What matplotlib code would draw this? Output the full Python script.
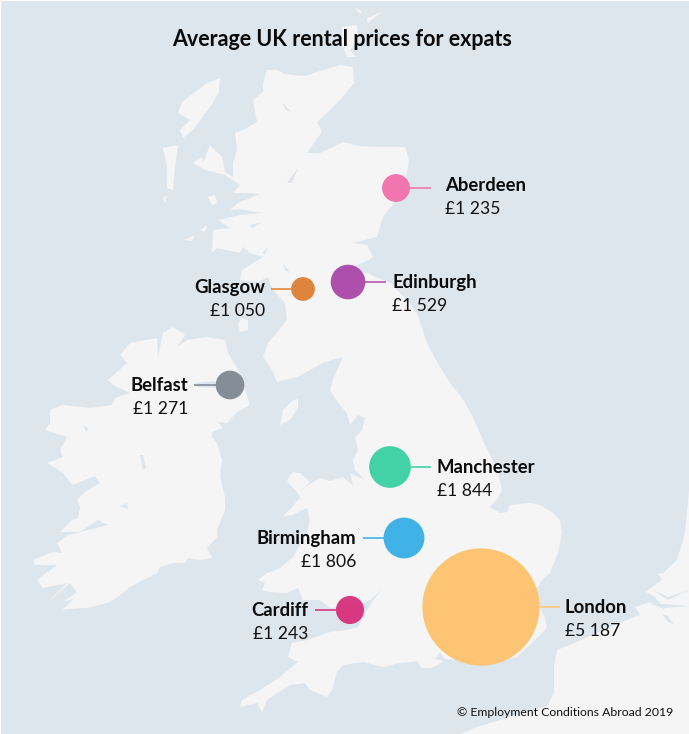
import matplotlib
matplotlib.use("Agg")
import matplotlib.pyplot as plt
from matplotlib.patches import Polygon, Circle

# ---- data ----
cities = ["Aberdeen", "Edinburgh", "Glasgow", "Belfast", "Manchester", "Birmingham", "Cardiff", "London"]
prices = [1235, 1529, 1050, 1271, 1844, 1806, 1243, 5187]
price_labels = ["£1 235", "£1 529", "£1 050", "£1 271", "£1 844", "£1 806", "£1 243", "£5 187"]
city_x = [396, 348, 303, 230, 390, 404, 350, 481]
city_y = [188, 282, 289, 385, 467, 538, 610, 607]
colors = ["#F16FA9", "#AA46A8", "#DC7F34", "#7F8991", "#38D0A2", "#36AFE6", "#D72F7A", "#FDC26C"]
line_colors = ["#F279AE", "#B653B4", "#E08A45", "#858E96", "#40D1A5", "#3EB2E6", "#D93A80", "#FCC97F"]
sides = ["r", "r", "l", "l", "r", "l", "l", "r"]
line_end_x = [431, 386, 270.5, 194, 431, 363, 315, 560]
label_x = [445, 392, 265.5, 188, 437, 356, 308, 565]
label_y = [185, 282, 287, 385, 467, 538, 610, 607]
RADIUS_PER_POUND = 0.0113
title = "Average UK rental prices for expats"
credit = "© Employment Conditions Abroad 2019"

# ---- basemap outlines (image pixels) ----
great_britain = [(267,70),(277,70),(285,74),(293,75),(305,76),(317,72),(330,68),(340,65),(353,67),(354,83),(347,92),(340,100),
 (328,112),(317,122),(322,132),(314,143),(307,153),(320,153),(333,147),(343,142),(360,146),(377,147),(405,147),(409,160),(407,173),
 (403,190),(400,197),(390,208),(383,217),(379,230),(377,237),(365,240),(353,243),(367,245),(373,257),(363,263),(345,268),(330,272),
 (345,275),(360,272),(367,273),(378,278),(390,283),(405,298),(417,313),(422,328),(427,343),(437,362),(450,383),(462,398),(472,415),
 (483,440),(490,455),(497,470),(502,490),(498,498),(490,507),(500,513),(507,512),(510,505),(530,503),(540,505),(552,512),(560,520),
 (562,533),(558,553),(550,573),(542,580),(538,587),(525,592),(515,600),(538,602),(541,610),(545,618),(547,628),(538,637),(517,657),
 (500,661),(480,663),(460,660),(445,659),(440,652),(436,658),(420,661),(400,663),(383,667),(363,662),(343,665),(337,672),(332,690),
 (327,697),(310,690),(305,683),(290,685),(267,700),(262,712),(257,703),(240,707),(242,700),(260,690),(280,677),(298,662),(288,657),
 (292,643),(307,640),(330,632),(347,630),(358,627),(366,612),(373,600),(383,589),(370,600),(357,605),(340,607),(330,608),(320,600),
 (303,600),(298,588),(287,593),(270,592),(262,590),(265,583),(258,580),(267,573),(280,568),(293,557),(307,533),(310,520),(307,508),
 (292,515),(282,517),(292,507),(300,498),(298,493),(308,485),(320,478),(330,481),(343,477),(353,485),(350,473),(365,480),(355,470),
 (353,460),(358,450),(355,438),(362,430),(365,418),(358,415),(350,425),(347,413),(338,403),(330,390),(333,380),(337,370),(343,357),
 (325,362),(310,370),(297,377),(277,382),(272,370),(263,357),(268,343),(287,320),(285,303),(273,290),(268,277),(258,282),(240,280),
 (242,270),(263,257),(250,253),(243,247),(240,253),(217,248),(212,253),(213,230),(230,228),(218,220),(240,215),(263,213),(240,209),
 (230,210),(238,203),(260,194),(245,193),(233,193),(240,185),(225,175),(205,170),(193,163),(202,157),(203,163),(210,145),(222,157),
 (225,172),(233,177),(233,163),(237,150),(235,133),(247,128),(257,122),(253,100),(263,92),(263,83)]
ireland = [(173,327),(185,335),(177,347),(187,340),(207,337),(225,340),(228,353),(240,373),(245,390),(250,405),(237,412),(227,423),
 (218,422),(223,428),(212,432),(212,437),(217,443),(222,460),(220,477),(225,497),(225,510),(217,530),(217,537),(207,548),(212,558),
 (200,560),(188,558),(185,563),(173,563),(160,567),(157,573),(147,578),(130,587),(123,593),(110,602),(88,608),(80,608),(62,610),
 (75,598),(63,602),(77,592),(70,583),(48,602),(67,583),(43,588),(37,580),(57,565),(35,565),(33,560),(53,552),(62,553),(57,543),
 (68,535),(108,525),(98,520),(80,532),(60,532),(72,520),(78,518),(80,507),(77,500),(85,492),(100,483),(95,476),(72,485),(63,473),
 (47,463),(63,457),(60,450),(67,437),(45,430),(50,423),(50,410),(62,405),(90,408),(112,405),(115,398),(130,393),(113,385),(108,380),
 (127,363),(120,355),(130,343),(157,338),(158,357),(163,333)]
continent = [(689,490),(689,734),(460,734),(477,727),(513,716),(540,708),(547,706),(554,693),(554,667),(557,650),(577,642),(597,633),
 (627,620),(640,615),(635,607),(650,602),(665,610),(655,597),(646,592),(655,585),(662,580),(658,574),(663,573),(677,560),(685,533)]
islands = [
 [(220,78),(219,92),(212,104),(193,130),(183,138),(180,130),(190,120),(178,113),(182,102),(207,83)],   # Lewis
 [(163,148),(178,145),(175,167),(173,190),(167,188),(167,167)],                                        # Uists
 [(163,198),(167,195),(165,203)],
 [(185,240),(195,235),(192,241)],
 [(200,230),(207,225),(205,232)],
 [(208,197),(215,195),(217,203),(212,205)],                                                            # Rum
 [(238,325),(241,318),(248,320),(248,330),(240,332)],                                                  # Arran
 [(298,399),(298,408),(290,420),(280,425),(283,410),(292,401)],                                        # Man
 [(287,480),(293,472),(300,473),(310,482),(298,493),(290,485)],                                        # Anglesey
 [(417,662),(430,658),(444,661),(432,668),(422,668)],                                                  # Wight
 [(342,27),(357,25),(358,40),(350,50),(356,57),(347,57),(342,44)],                                     # Orkney
 [(355,8),(360,10),(363,14),(358,12)],
 [(367,18),(382,12),(370,21),(368,24)],
]
sea_inlets = [
 [(287,183),(298,168),(292,183)],
 [(282,103),(292,112),(286,110)],
 [(262,253),(268,247),(265,254)],
 [(283,263),(290,273),(285,270)],
 [(250,225),(262,222),(252,228)],
 [(83,425),(88,428),(87,433)],
 [(140,455),(143,470),(146,468),(143,455)],
 [(120,506),(127,503),(128,509)],
 [(195,383),(215,381),(215,388),(197,387)],
 [(653,590),(668,597),(689,590),(668,600)],
 [(662,614),(668,616),(674,625),(666,620)],
 [(650,604),(665,604),(689,606),(664,608)],
]

SEA = "#DEE6ED"
LAND = "#F5F5F5"

plt.rcParams["font.family"] = ["Lato", "DejaVu Sans"]
fig = plt.figure(figsize=(6.89, 7.34), dpi=100, facecolor="white")
ax = fig.add_axes([0, 0, 1, 1])
ax.set_xlim(0, 689)
ax.set_ylim(734, 0)
ax.axis("off")
ax.add_patch(plt.Rectangle((1, 1), 688, 733, fc=SEA, ec="none", zorder=0))

for shape in [great_britain, ireland, continent] + islands:
    ax.add_patch(Polygon(shape, closed=True, fc=LAND, ec="none", zorder=1))
for shape in sea_inlets:
    ax.add_patch(Polygon(shape, closed=True, fc=SEA, ec="none", zorder=2))

for name, value, text, x, y, c, lc, side, lx, tx, ty in zip(
        cities, prices, price_labels, city_x, city_y, colors, line_colors,
        sides, line_end_x, label_x, label_y):
    r = value * RADIUS_PER_POUND
    edge = x + r if side == "r" else x - r
    ax.plot([edge, lx], [y, y], color=lc, lw=1.2, solid_capstyle="butt", zorder=3)
    ax.add_patch(Circle((x, y), r, fc=c, ec="none", alpha=0.95, zorder=4))
    ha = "left" if side == "r" else "right"
    ax.text(tx, ty + 6, name, ha=ha, va="baseline", fontsize=13.3, fontweight="bold", color="#0B0B0B", zorder=5)
    ax.text(tx, ty + 29, text, ha=ha, va="baseline", fontsize=12.6, fontweight="normal", color="#111111", zorder=5)

ax.text(342, 46, title, ha="center", va="baseline", fontsize=15.5, fontweight="bold", color="#0B0B0B", zorder=5)
ax.text(673, 716, credit, ha="right", va="baseline", fontsize=8.8, color="#111111", zorder=5)

fig.savefig("out.png", dpi=100, facecolor="white")
